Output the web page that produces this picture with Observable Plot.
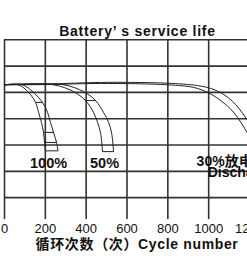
<!DOCTYPE html>
<html>
<head>
<meta charset="utf-8">
<script src="https://cdn.jsdelivr.net/npm/d3@7"></script>
<script src="https://cdn.jsdelivr.net/npm/@observablehq/plot@0.6"></script>
<style>
  html, body { margin: 0; padding: 0; background: #fff; overflow: hidden; }
  svg { display: block; }
</style>
</head>
<body>
<div id="chart"></div>
<script>
// ---- data ----
const titleText = "Battery’ s service life";
const xTitle = "循环次数（次）Cycle number";
const xTicks = [0, 200, 400, 600, 800, 1000, 1200];
const yGrid = [60, 70, 80, 90, 100, 110, 120];

// 100% discharge band (capacity levels shared by both edges)
const lvl100 = [102.9, 102.9, 100, 96.2, 92.4, 88.6, 84.8, 81, 77.8];
const in100  = [0, 68, 118, 152, 167, 181, 191, 196, 201];
const out100 = [0, 88, 142, 186, 211, 225, 240, 255, 262];
const rung100 = [3, 6, 7, 8];

// 50% discharge band
const lvl50 = [102.9, 102.9, 100.3, 96.9, 92.4, 88.6, 84.4, 77.5];
const in50  = [0, 240, 338, 397, 436, 456, 471, 480];
const out50 = [0, 289, 387, 446, 485, 510, 525, 534];
const rung50 = [3, 7];

// 30% discharge band
const in30Cycles  = [0, 211, 471, 799, 926, 995, 1059, 1123, 1191, 1216];
const in30Caps    = [102.9, 103.0, 103.4, 102.9, 101.9, 100, 96.9, 92.4, 84.4, 81];
const out30Cycles = [0, 211, 471, 618, 799, 946, 1010, 1074, 1132, 1191, 1216];
const out30Caps   = [102.9, 103.2, 103.8, 103.8, 103.5, 102.6, 101.5, 99.2, 95.4, 89.3, 86.4];

const labels      = ["100%", "50%", "30%放电", "Discharge"];
const labelCycles = [216, 490, 941, 995];
const labelCaps   = [73.2, 73.2, 73.7, 69.5];
const labelAnchor = ["middle", "middle", "start", "start"];
const labelSize   = [14.5, 14.5, 14, 14];

// ---- build ----
const toPts = (cyc, cap) => cyc.map((c, i) => ({cycle: c, cap: cap[i]}));
const curves = [
  toPts(in100, lvl100), toPts(out100, lvl100),
  toPts(in50, lvl50), toPts(out50, lvl50),
  toPts(in30Cycles, in30Caps), toPts(out30Cycles, out30Caps)
];
const rungs = [
  ...rung100.map(i => ({x1: in100[i], x2: out100[i], y: lvl100[i]})),
  ...rung50.map(i => ({x1: in50[i], x2: out50[i], y: lvl50[i]}))
];
const labelRows = labels.map((t, i) => ({t, x: labelCycles[i], y: labelCaps[i], a: labelAnchor[i], s: labelSize[i]}));

const font = "'Liberation Sans', Arial, 'Noto Sans CJK SC', sans-serif";
const gridColor = "#333";
const lineColor = "#222";

const chart = Plot.plot({
  width: 247,
  height: 273,
  marginLeft: 4,
  marginRight: -2,
  marginTop: 39.3,
  marginBottom: 54,
  style: {fontFamily: font, background: "#fff", overflow: "visible"},
  x: {domain: [0, 1200], axis: null},
  y: {domain: [51.7, 120], axis: null},
  marks: [
    Plot.ruleX(xTicks, {x: d => d, stroke: gridColor, strokeWidth: 1.6}),
    Plot.ruleY(yGrid, {y: d => d, stroke: gridColor, strokeWidth: 1.6}),
    ...curves.map(c => Plot.line(c, {x: "cycle", y: "cap", curve: "catmull-rom", stroke: lineColor, strokeWidth: 1})),
    Plot.link(rungs, {x1: "x1", x2: "x2", y1: "y", y2: "y", stroke: lineColor, strokeWidth: 1}),
    ...labelRows.map(r => Plot.text([r], {x: "x", y: "y", text: "t", textAnchor: r.a, fontSize: r.s, fontWeight: "bold", fill: "#111"})),
    Plot.text(xTicks, {x: d => d, text: d => String(d), frameAnchor: "bottom", dy: 13, fontSize: 13, fill: "#111"}),
    Plot.text([xTitle], {text: d => d, frameAnchor: "bottom", dx: 10, dy: 29, fontSize: 14, fontWeight: "bold", fill: "#111"}),
    Plot.text([titleText], {text: d => d, frameAnchor: "top", dx: 10.5, dy: -13.3, fontSize: 14, fontWeight: "bold", fill: "#111"})
  ]
});
d3.select(chart).selectAll("text").each(function() {
  const t = this.textContent;
  if (t === titleText) this.setAttribute("letter-spacing", "0.75");
  if (t === xTitle) this.setAttribute("letter-spacing", "0.65");
});
document.getElementById("chart").appendChild(chart);
</script>
</body>
</html>
